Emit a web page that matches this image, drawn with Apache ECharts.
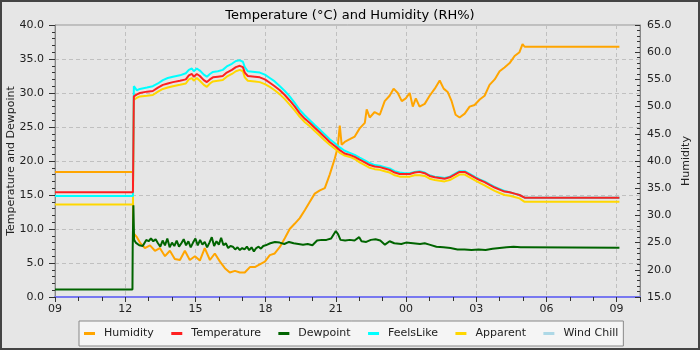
<!DOCTYPE html>
<html><head><meta charset="utf-8">
<script src="https://cdn.jsdelivr.net/npm/echarts@6/dist/echarts.min.js"></script>
<style>html,body{margin:0;padding:0;background:#e6e6e6}#c{width:700px;height:350px}</style>
</head><body><div id="c"></div>
<script>
// Time is expressed as hours since 09:00 on the first day
const hourLabels = ['09','12','15','18','21','00','03','06','09'];

const tempTimes = [0,3.33,3.35,3.37,3.50,3.63,3.93,4.18,4.40,4.61,4.82,5.04,5.34,5.59,5.72,5.85,5.93,6.06,6.19,6.36,
  6.49,6.62,6.75,6.96,7.17,7.34,7.56,7.73,7.90,8.03,8.11,8.24,8.54,8.75,8.97,9.18,9.39,9.61,9.82,10.03,
  10.25,10.46,10.68,10.89,11.10,11.32,11.53,11.74,11.96,12.17,12.38,12.60,12.81,13.02,13.24,13.45,13.66,13.88,14.09,14.30,
  14.52,14.73,14.94,15.16,15.37,15.58,15.80,16.01,16.23,16.44,16.65,16.87,17.08,17.29,17.51,17.72,17.93,18.15,18.36,18.57,
  18.79,19.00,19.21,19.43,19.64,19.85,20.07,24.12];
const temperature = [15.4,15.4,22.4,29.5,29.8,30.0,30.2,30.3,30.8,31.2,31.4,31.6,31.8,32.0,32.6,32.8,32.4,32.8,32.5,31.9,
  31.6,32.0,32.3,32.4,32.5,33.0,33.4,33.8,34.0,33.8,33.0,32.5,32.4,32.3,32.0,31.5,31.0,30.4,29.7,28.9,
  28.0,27.0,26.2,25.6,24.9,24.2,23.5,22.8,22.2,21.6,21.1,20.9,20.6,20.2,19.8,19.4,19.2,19.1,18.9,18.7,
  18.3,18.1,18.1,18.1,18.3,18.4,18.2,17.8,17.6,17.5,17.4,17.6,18.0,18.4,18.4,18.0,17.6,17.2,16.9,16.5,
  16.1,15.8,15.5,15.4,15.2,15.0,14.6,14.6];
const feelsLike = [14.85,14.85,22.9,31.0,30.4,30.6,30.8,31.0,31.4,31.9,32.2,32.4,32.6,32.9,33.4,33.6,33.2,33.6,33.3,32.7,
  32.4,32.8,33.1,33.2,33.4,33.9,34.3,34.7,34.8,34.6,33.8,33.2,33.1,33.0,32.7,32.2,31.7,31.0,30.3,29.5,
  28.5,27.5,26.7,26.0,25.3,24.6,23.9,23.2,22.6,22.0,21.5,21.2,20.9,20.5,20.1,19.7,19.4,19.3,19.1,18.9,
  18.5,18.3,18.2,18.2,18.4,18.5,18.3,17.9,17.7,17.6,17.5,17.7,18.1,18.5,18.5,18.1,17.7,17.3,17.0,16.6,
  16.2,15.9,15.6,15.4,15.2,15.0,14.6,14.6];
const apparent = [13.6,13.6,22.0,29.0,29.3,29.5,29.6,29.7,30.2,30.6,30.8,31.0,31.2,31.4,32.0,32.2,31.8,32.2,31.8,31.2,
  30.9,31.4,31.7,31.8,31.9,32.4,32.8,33.2,33.4,33.2,32.3,31.8,31.7,31.6,31.3,30.9,30.4,29.8,29.1,28.3,
  27.4,26.5,25.7,25.1,24.4,23.7,23.0,22.4,21.8,21.2,20.8,20.6,20.3,19.8,19.4,19.0,18.8,18.7,18.5,18.3,
  17.9,17.7,17.7,17.7,17.9,17.9,17.8,17.4,17.2,17.1,17.0,17.2,17.6,18.0,18.0,17.6,17.2,16.8,16.4,16.0,
  15.6,15.3,15.0,14.9,14.7,14.5,14.0,14.0];

const dewpoint = [[0,1.1],[3.31,1.1],[3.32,7.2],[3.35,13.5],[3.38,8.4],[3.45,8.0],[3.6,7.6],[3.75,7.5],[3.9,8.4],[4.0,8.2],
  [4.1,8.6],[4.2,8.2],[4.3,8.5],[4.4,7.9],[4.5,7.4],[4.6,8.3],[4.7,7.6],[4.8,8.6],[4.9,7.3],[5.0,8.0],
  [5.1,7.5],[5.2,8.3],[5.3,7.4],[5.4,7.9],[5.5,8.5],[5.6,7.6],[5.7,8.2],[5.8,7.3],[5.9,8.0],[6.0,8.6],
  [6.1,7.6],[6.2,8.4],[6.3,7.7],[6.4,8.1],[6.5,7.3],[6.6,8.0],[6.7,8.8],[6.8,7.5],[6.9,8.2],[7.0,7.7],
  [7.1,8.7],[7.2,7.6],[7.3,7.9],[7.4,7.2],[7.5,7.5],[7.6,7.4],[7.7,7.0],[7.8,7.3],[7.9,6.9],[8.0,7.2],
  [8.1,7.0],[8.2,7.4],[8.3,6.9],[8.4,7.3],[8.5,6.7],[8.6,7.2],[8.7,7.4],[8.8,7.1],[8.9,7.5],[9.0,7.6],
  [9.2,7.9],[9.4,8.1],[9.6,8.0],[9.8,7.8],[10.0,8.1],[10.2,7.9],[10.4,7.8],[10.6,7.7],[10.8,7.8],[11.0,7.6],
  [11.2,8.3],[11.4,8.4],[11.6,8.4],[11.8,8.6],[12.0,9.7],[12.1,9.2],[12.2,8.4],[12.4,8.3],[12.6,8.4],[12.8,8.3],
  [13.0,8.8],[13.1,8.2],[13.3,8.1],[13.5,8.4],[13.7,8.5],[13.9,8.3],[14.1,7.7],[14.3,8.2],[14.5,7.9],[14.8,7.8],
  [15.0,8.0],[15.3,7.9],[15.6,7.8],[15.8,7.9],[16.0,7.7],[16.3,7.4],[16.6,7.3],[16.9,7.2],[17.2,7.0],[17.5,7.0],
  [17.8,6.9],[18.1,7.0],[18.4,6.9],[18.7,7.1],[19.0,7.2],[19.3,7.3],[19.6,7.4],[19.9,7.3],[20.07,7.3],[24.12,7.25]];

const humidity = [[0,38.0],[3.33,38.0],[3.34,26.8],[3.5,26.0],[3.63,25.0],[3.84,24.0],[4.06,24.5],[4.27,23.5],[4.48,24.0],[4.70,22.5],
  [4.91,23.5],[5.12,22.0],[5.34,21.8],[5.55,23.5],[5.76,21.8],[5.98,22.5],[6.19,21.7],[6.40,24.0],[6.62,21.8],[6.83,23.0],
  [7.05,21.5],[7.26,20.3],[7.47,19.5],[7.69,19.8],[7.90,19.5],[8.11,19.5],[8.33,20.5],[8.54,20.5],[8.75,21.0],[8.97,21.5],
  [9.18,22.7],[9.39,23.0],[9.61,24.2],[9.82,25.8],[10.03,27.5],[10.25,28.5],[10.46,29.5],[10.68,31.0],[10.89,32.5],[11.10,34.0],
  [11.32,34.6],[11.53,35.0],[11.74,37.5],[11.96,40.5],[12.08,42.5],[12.17,46.5],[12.25,43.0],[12.38,43.5],[12.60,44.0],[12.81,44.5],
  [13.02,46.0],[13.24,47.0],[13.32,49.5],[13.45,48.0],[13.66,49.0],[13.88,48.5],[14.09,51.0],[14.30,52.0],[14.47,53.3],[14.65,52.5],
  [14.82,51.0],[14.99,51.5],[15.16,52.5],[15.29,50.0],[15.42,51.5],[15.58,50.0],[15.80,50.5],[16.01,52.0],[16.23,53.3],[16.44,54.8],
  [16.61,53.3],[16.78,52.7],[16.95,51.0],[17.12,48.5],[17.29,48.0],[17.51,48.7],[17.72,50.0],[17.93,50.3],[18.15,51.3],[18.36,52.0],
  [18.57,54.0],[18.79,55.0],[19.00,56.5],[19.21,57.2],[19.43,58.0],[19.64,59.3],[19.85,60.0],[19.98,61.5],[20.07,61.0],[24.12,61.0]];

const windChill = [];

const FONT = 'DejaVu Sans';
const pair = (t, v) => t.map((x, i) => [x, v[i]]);

const chart = echarts.init(document.getElementById('c'), null, {renderer: 'canvas'});
const lineSeries = (name, data, color, yIdx) => ({
  name, type: 'line', data, yAxisIndex: yIdx || 0, showSymbol: false, symbol: 'none',
  lineStyle: {width: 2, color}, itemStyle: {color}, animation: false
});
chart.setOption({
  backgroundColor: '#e6e6e6',
  animation: false,
  title: {text: 'Temperature (°C) and Humidity (RH%)', left: 'center', top: 4,
    textStyle: {fontFamily: FONT, fontSize: 13, fontWeight: 'normal', color: '#000'}},
  grid: {left: 55, right: 60, top: 25, bottom: 53, show: true, borderColor: '#999', borderWidth: 1,
    backgroundColor: 'transparent', containLabel: false, outerBoundsMode: 'none'},
  legend: {
    data: ['Humidity','Temperature','Dewpoint','FeelsLike','Apparent','Wind Chill'],
    left: 79, top: 321, icon: 'rect', itemWidth: 11, itemHeight: 3, itemGap: 17.4,
    padding: [7, 5, 7, 5], backgroundColor: '#f5f5f5', borderColor: '#888', borderWidth: 1,
    textStyle: {fontFamily: FONT, fontSize: 11, color: '#222', padding: [0, 0, 0, 4]}
  },
  xAxis: {
    type: 'value', min: 0, max: 25, interval: 3,
    axisLine: {show: true, lineStyle: {color: '#7878f0', width: 2}},
    axisTick: {show: true, length: 5, lineStyle: {color: '#333'}},
    minorTick: {show: true, splitNumber: 3, length: 4, lineStyle: {color: '#333'}},
    axisLabel: {fontFamily: FONT, fontSize: 11, color: '#222', margin: 7,
      formatter: v => (v % 3 === 0 && v / 3 < hourLabels.length) ? hourLabels[v / 3] : ''},
    splitLine: {show: true, lineStyle: {color: '#c0c0c0', type: [4, 3]}}
  },
  yAxis: [{
    type: 'value', min: 0, max: 40, interval: 5, position: 'left',
    name: 'Temperature and Dewpoint', nameLocation: 'middle', nameGap: 38, nameRotate: 90, nameMoveOverlap: false,
    nameTextStyle: {fontFamily: FONT, fontSize: 11, color: '#222'},
    axisLine: {show: true, lineStyle: {color: '#888'}},
    axisTick: {show: true, length: 6, lineStyle: {color: '#333'}},
    minorTick: {show: true, splitNumber: 5, length: 3, lineStyle: {color: '#333'}},
    axisLabel: {fontFamily: FONT, fontSize: 11, color: '#222', margin: 11, formatter: v => v.toFixed(1)},
    splitLine: {show: true, lineStyle: {color: '#c0c0c0', type: [4, 3]}}
  }, {
    type: 'value', min: 15, max: 65, interval: 5, position: 'right',
    name: 'Humidity', nameLocation: 'middle', nameGap: 41, nameRotate: 90, nameMoveOverlap: false,
    nameTextStyle: {fontFamily: FONT, fontSize: 11, color: '#222'},
    axisLine: {show: true, lineStyle: {color: '#888'}},
    axisTick: {show: true, inside: true, length: 5, lineStyle: {color: '#333'}},
    minorTick: {show: true, splitNumber: 5, length: 3, lineStyle: {color: '#333'}},
    axisLabel: {fontFamily: FONT, fontSize: 11, color: '#222', margin: 7, formatter: v => v.toFixed(1)},
    splitLine: {show: false}
  }],
  graphic: [{type: 'rect', silent: true, z: 100,
    shape: {x: 1, y: 1, width: 698, height: 348}, style: {fill: 'none', stroke: '#444', lineWidth: 2}}],
  series: [
    lineSeries('Humidity', humidity, '#ffa500', 1),
    lineSeries('Apparent', pair(tempTimes, apparent), '#ffd700'),
    lineSeries('FeelsLike', pair(tempTimes, feelsLike), '#00ffff'),
    lineSeries('Dewpoint', dewpoint, '#006400'),
    lineSeries('Temperature', pair(tempTimes, temperature), '#ff2020'),
    lineSeries('Wind Chill', windChill, '#add8e6')
  ]
});
</script></body></html>
